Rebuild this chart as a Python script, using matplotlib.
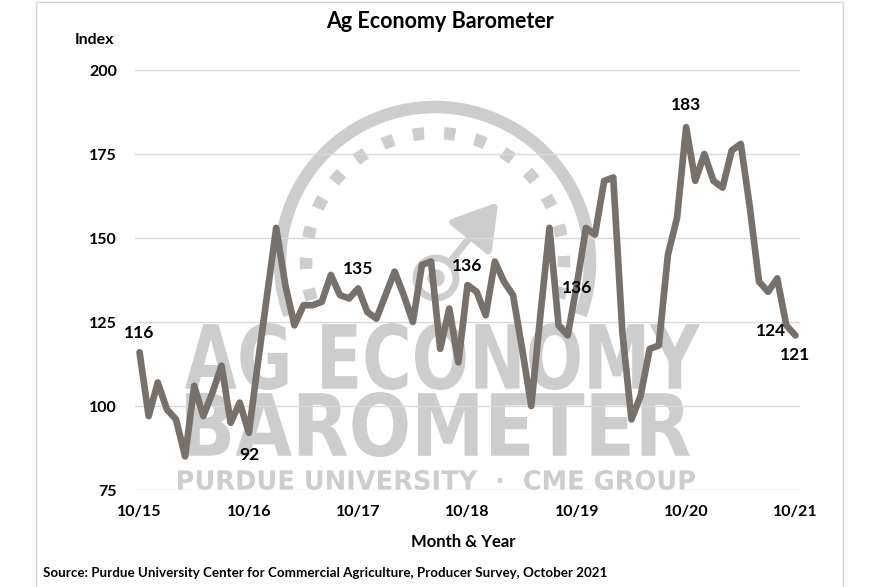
"""Ag Economy Barometer line chart with watermark."""

import matplotlib
matplotlib.use("Agg")
import matplotlib.pyplot as plt
import numpy as np
from matplotlib.font_manager import FontProperties
from matplotlib.patches import PathPatch, Arc, Circle, Rectangle
from matplotlib.textpath import TextPath
from matplotlib.transforms import Affine2D

plt.rcParams["font.family"] = ["Lato", "DejaVu Sans"]
plt.rcParams["font.weight"] = "bold"

# monthly index, Oct 2015 .. Oct 2021
index_values = [
    116, 97, 107, 99, 96, 85, 106, 97, 104, 112, 95, 101,    # 10/15 - 9/16
    92, 113, 133, 153, 136, 124, 130, 130, 131, 139, 133, 132,  # 10/16 - 9/17
    135, 128, 126, 133, 140, 133, 125, 142, 143, 117, 129, 113,  # 10/17 - 9/18
    136, 134, 127, 143, 137, 133, 117, 100, 127, 153, 124, 121,  # 10/18 - 9/19
    136, 153, 151, 167, 168, 122, 96, 103, 117, 118, 145, 156,   # 10/19 - 9/20
    183, 167, 175, 167, 165, 176, 178, 159, 137, 134, 138, 124,  # 10/20 - 9/21
    121,                                                         # 10/21
]
year_labels = ["10/15", "10/16", "10/17", "10/18", "10/19", "10/20", "10/21"]
y_ticks = [75, 100, 125, 150, 175, 200]
# (month index, text) for the value callouts
callouts = [(0, "116"), (12, "92"), (24, "135"), (36, "136"), (48, "136"),
            (60, "183"), (71, "124"), (72, "121")]

LINE = "#78706a"
GRID = "#d9d9d9"
WM = "#cdcdcd"

fig = plt.figure(figsize=(8.8, 5.87), dpi=100)

# background layer in pixel coords (y down) for frame + watermark
bg = fig.add_axes([0, 0, 1, 1], zorder=0)
bg.set_xlim(0, 880)
bg.set_ylim(587, 0)
bg.axis("off")
bg.add_patch(Rectangle((36, 2), 807, 640, fill=False, ec="#d4d4d4", lw=1))


def fit_text(ax, s, box, color, family="DejaVu Sans"):
    x0, y0, x1, y1 = box
    tp = TextPath((0, 0), s, size=100, prop=FontProperties(family=family, weight="bold"))
    ext = tp.get_extents()
    sx = (x1 - x0) / ext.width
    sy = (y1 - y0) / ext.height
    tr = Affine2D().translate(-ext.x0, -ext.y1).scale(sx, -sy).translate(x0, y0)
    ax.add_patch(PathPatch(tr.transform_path(tp), fc=color, ec="none"))


# gauge
cx, cy = 435, 262
bg.add_patch(Arc((cx, cy), 310, 310, theta1=-200, theta2=20, color=WM, lw=9))
bg.add_patch(Arc((cx, cy), 258, 258, theta1=-197, theta2=17, color=WM, lw=9,
                 linestyle=(0, (0.9, 1.6))))
bg.add_patch(Circle((436, 278), 20, fill=False, ec=WM, lw=5))
bg.add_patch(Circle((436, 278), 8, color=WM))
bg.annotate("", xy=(500, 200), xytext=(450, 262),
            arrowprops=dict(arrowstyle="-|>,head_length=0.9,head_width=0.55",
                            color=WM, lw=5, mutation_scale=30))
fit_text(bg, "AG ECONOMY", (185, 323, 700, 390), WM)
fit_text(bg, "BAROMETER", (186, 392, 690, 457), WM)
fit_text(bg, "PURDUE UNIVERSITY  ·  CME GROUP", (178, 470, 695, 490), WM)

# main chart
ax = fig.add_axes([135 / 880, 1 - 490 / 587, 665 / 880, 420 / 587], zorder=1)
ax.patch.set_alpha(0)
x = np.arange(len(index_values))
ax.plot(x, index_values, color=LINE, lw=4.8, solid_joinstyle="round",
        solid_capstyle="round", zorder=3)

ax.set_xlim(-0.5, len(index_values) - 0.5)
ax.set_ylim(75, 200)
ax.set_yticks(y_ticks)
ax.set_xticks(np.arange(0, len(index_values), 12))
ax.set_xticklabels(year_labels)
ax.tick_params(axis="both", length=0, labelsize=11.5)
ax.tick_params(axis="y", pad=13)
ax.tick_params(axis="x", pad=11)
for s in ax.spines.values():
    s.set_visible(False)
ax.yaxis.grid(True, color=GRID, lw=1)
ax.set_axisbelow(True)

offsets = {0: (0, 14), 12: (0, -16), 24: (0, 14), 36: (0, 14), 48: (0, -2),
           60: (0, 16), 71: (0, -4), 72: (0, -14)}
for i, txt in callouts:
    dx, dy = offsets[i]
    ha = "right" if i == 71 else "center"
    ax.annotate(txt, (i, index_values[i]), xytext=(dx, dy), textcoords="offset points",
                ha=ha, va="center", fontsize=12.5, fontweight="bold", zorder=4)

fig.text(440 / 880, 1 - 22 / 587, "Ag Economy Barometer", ha="center", va="center",
         fontsize=15.5, fontweight="bold")
fig.text(94 / 880, 1 - 40 / 587, "Index", ha="center", va="center",
         fontsize=11.5, fontweight="bold")
fig.text(463 / 880, 1 - 542 / 587, "Month & Year", ha="center", va="center",
         fontsize=12, fontweight="bold")
fig.text(43 / 880, 1 - 573 / 587,
         "Source: Purdue University Center for Commercial Agriculture, Producer Survey, October 2021",
         ha="left", va="center", fontsize=9.6, fontweight="bold")

fig.savefig("out.png", dpi=100)
